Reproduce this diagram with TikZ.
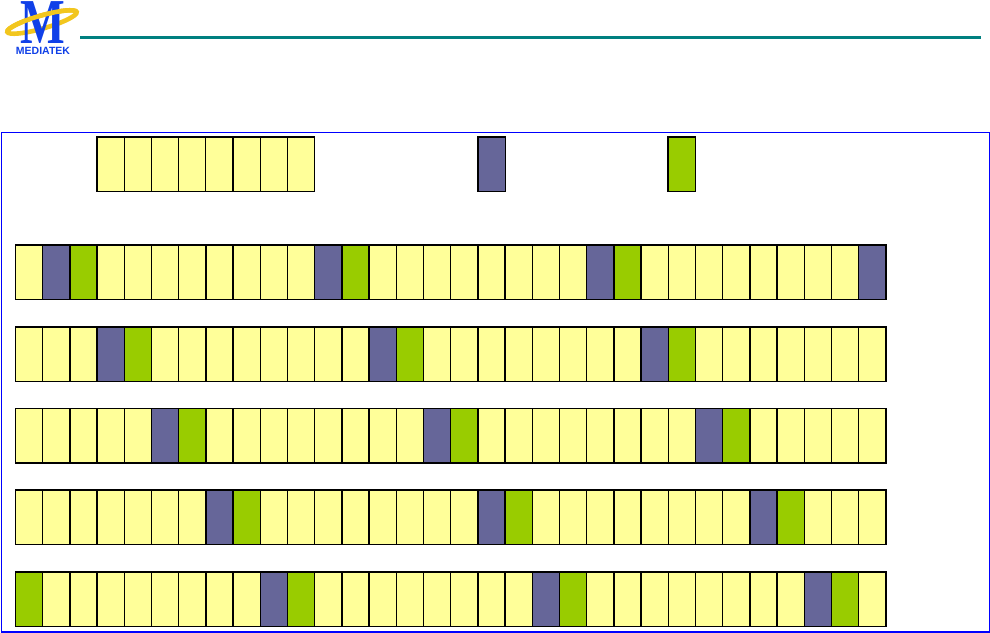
\documentclass[tikz,border=0pt]{standalone}
\usepackage{xcolor}
\usepackage{fontspec}
\setmainfont{Liberation Sans}
\newfontfamily\logoserif{Liberation Serif}
\definecolor{cellyellow}{HTML}{FFFF99}
\definecolor{cellblue}{HTML}{666699}
\definecolor{cellgreen}{HTML}{99CC00}
\definecolor{ruleteal}{HTML}{008080}
\definecolor{logoblue}{HTML}{1040E8}
\definecolor{logogold}{HTML}{F2C61E}

\begin{document}
\begin{tikzpicture}[x=1pt,y=-1pt,
  cell/.style={draw=black,line width=1.3pt,fill=cellyellow,minimum width=27.2pt,minimum height=54.4pt,inner sep=0pt,outer sep=0pt,anchor=north west},
  bluecell/.style={cell,fill=cellblue},
  greencell/.style={cell,fill=cellgreen},
  ring/.style={logogold,line width=4.6pt}]
  \useasboundingbox (0,0) rectangle (990,632);
  \fill[white] (0,0) rectangle (990,632);
  % logo
  \draw[ring,rotate around={16:(42,22)}] (42,22) ellipse [x radius=36,y radius=6.5];
  \node[text=logoblue,inner sep=0pt,anchor=base,xscale=0.74] (logom) at (43,43.5) {\logoserif\bfseries\fontsize{64}{64}\selectfont M};
  \draw[ring,rotate around={16:(42,22)}] (6,22) arc [start angle=180,end angle=360,x radius=36,y radius=6.5];
  \node[text=logoblue,inner sep=0pt,anchor=base,font=\bfseries\fontsize{10.5}{10.5}\selectfont] (logotext) at (43,54) {MEDIATEK};
  \coordinate (rulestart) at (80,37.5);
  \coordinate (ruleend) at (981,37.5);
  \draw[ruleteal,line width=3pt] (rulestart) -- (ruleend);
  \node[draw=blue,line width=1.5pt,minimum width=988.5pt,minimum height=499.5pt,inner sep=0pt,anchor=north west] (frame) at (0.7,131.5) {};
  % legend
  \foreach \i in {0,...,7}
    \node[cell] (legend\i) at (97+27.2*\i,137) {};
  \node[bluecell] (legendblue) at (478,137) {};
  \node[greencell] (legendgreen) at (668,137) {};
  % symbol rows
  \foreach \r/\y in {1/245,2/327,3/408.5,4/490,5/572}
    \foreach \i in {0,...,31}
      \node[cell] (cell\r-\i) at (15.5+27.2*\i,\y) {};
  \foreach \r/\y/\i in {1/245/1,1/245/11,1/245/21,1/245/31,2/327/3,2/327/13,2/327/23,
      3/408.5/5,3/408.5/15,3/408.5/25,4/490/7,4/490/17,4/490/27,5/572/9,5/572/19,5/572/29}
    \node[bluecell] (blue\r-\i) at (15.5+27.2*\i,\y) {};
  \foreach \r/\y/\i in {1/245/2,1/245/12,1/245/22,2/327/4,2/327/14,2/327/24,
      3/408.5/6,3/408.5/16,3/408.5/26,4/490/8,4/490/18,4/490/28,5/572/0,5/572/10,5/572/20,5/572/30}
    \node[greencell] (green\r-\i) at (15.5+27.2*\i,\y) {};
\end{tikzpicture}
\end{document}
